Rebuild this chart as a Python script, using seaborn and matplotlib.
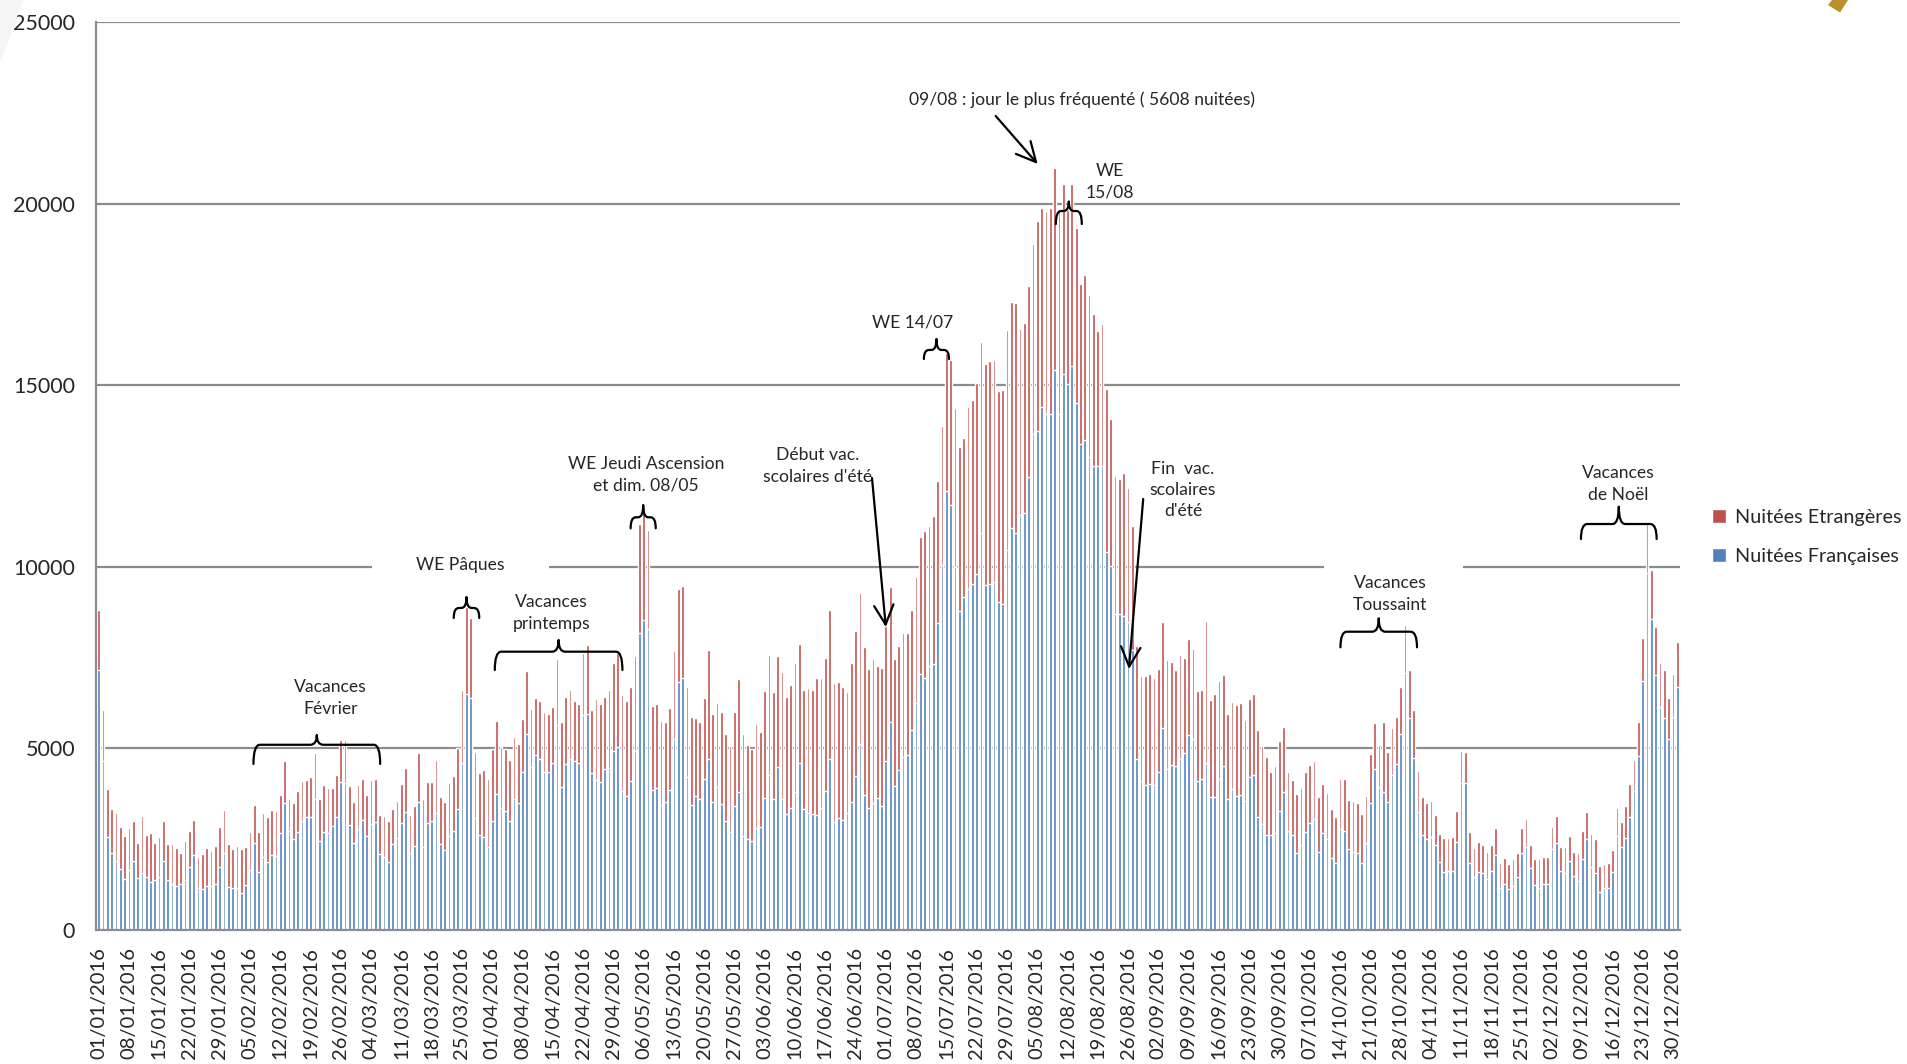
import numpy as np
import pandas as pd
import matplotlib
matplotlib.use('Agg')
import matplotlib.pyplot as plt
from matplotlib.path import Path
from matplotlib.patches import PathPatch, Polygon, Rectangle
import seaborn as sns

sns.set_style('white')
plt.rcParams['font.family'] = ['Lato', 'DejaVu Sans']

# daily nights, 2016 (total = Etrangères + Françaises)
jours = pd.date_range('2016-01-01', '2016-12-31', freq='D')

total = [
    # janvier
    8810, 6070, 3880, 3330, 3230, 2830, 2590, 2810, 3010, 2390, 3140, 2620, 2660, 2400, 2570, 3000,
    2370, 2370, 2250, 2110, 2450, 2720, 3030, 2010, 2080, 2250, 2180, 2320, 2830, 3300, 2360,
    # fevrier
    2220, 2310, 2230, 2290, 2710, 3440, 2710, 3210, 3100, 3300, 3280, 3720, 4660, 3610, 3510,
    3840, 4090, 4130, 4200, 4860, 3620, 3990, 3920, 3900, 4260, 5230, 5230, 3960, 3520,
    # mars
    3990, 4170, 3710, 4130, 4160, 3160, 3140, 3010, 3320, 3560, 4010, 4450, 3170, 3410, 4880,
    3620, 4080, 4080, 4680, 3670, 3530, 4040, 4250, 5020, 6620, 8900, 8580, 4910, 4310, 4400, 4150,
    # avril
    4970, 5760, 5030, 4970, 4680, 5320, 5110, 5800, 7130, 6090, 6390, 6300, 5990, 5950, 6150,
    7460, 5730, 6420, 6620, 6300, 6220, 7620, 7840, 6070, 6370, 6220, 6420, 6610, 7340, 7620,
    # mai
    6460, 6300, 6680, 7550, 11190, 11650, 11010, 6170, 6210, 5750, 5730, 6100, 7690, 9390, 9480,
    6680, 5870, 5840, 5730, 6380, 7710, 5940, 6240, 5990, 5390, 5060, 5990, 6910, 5390, 5090, 4980,
    # juin
    5670, 5460, 6590, 7560, 6540, 7540, 7090, 6420, 6740, 7360, 7880, 6620, 6650, 6610, 6950,
    6950, 7480, 8810, 6790, 6820, 6680, 6560, 7340, 8240, 9280, 7800, 7190, 7450, 7270, 7210,
    # juillet
    8370, 9450, 7460, 7820, 8190, 8190, 8810, 9710, 10830, 10990, 11120, 11390, 12360, 13880, 15900,
    15690, 14360, 13310, 13560, 14390, 14590, 15070, 16200, 15580, 15670, 15690, 14840, 14870, 16520,
    17280, 17250,
    # aout
    16550, 16700, 17730, 18890, 19510, 19890, 19800, 19880, 20990, 19850, 20550, 19820, 20550, 19340,
    17790, 18030, 17480, 16960, 16480, 16690, 14900, 14070, 12500, 12420, 12570, 12180, 11120, 7810,
    6990, 6980, 7060,
    # septembre
    6950, 7190, 8490, 7430, 7370, 7160, 7570, 7500, 8010, 7740, 6570, 6610, 8510, 6330, 6500,
    6860, 7020, 5960, 6290, 6200, 6240, 5780, 6350, 6510, 5520, 5070, 4750, 4340, 4520, 5200,
    # octobre
    5580, 4340, 4120, 3740, 3900, 4340, 4540, 4650, 3670, 4010, 3780, 3320, 3120, 4170, 4150,
    3570, 3560, 3510, 3190, 3700, 4840, 5690, 5090, 5730, 4910, 5550, 5870, 6700, 8410, 7160, 6060,
    # novembre
    4380, 3670, 3510, 3550, 3180, 2630, 2540, 2540, 2570, 3280, 4930, 4890, 2690, 2250, 2430,
    2340, 2140, 2350, 2800, 1840, 1970, 1810, 1950, 2110, 2800, 3060, 2340, 1950, 1950, 2000,
    # decembre
    2020, 2840, 3140, 2280, 2290, 2590, 2140, 2110, 2730, 3240, 2630, 2500, 1760, 1820, 1840,
    2200, 3350, 2980, 3410, 4010, 4680, 5730, 8050, 11170, 9910, 8350, 7360, 7160, 6390, 7040, 7940,
]

francaises = [
    # janvier
    7160, 4660, 2550, 2110, 1900, 1670, 1400, 1650, 1900, 1430, 1580, 1450, 1310, 1380, 1450, 1900,
    1390, 1260, 1220, 1280, 1390, 1740, 2060, 1150, 1130, 1220, 1210, 1280, 1740, 2110, 1190,
    # fevrier
    1170, 1150, 1010, 1240, 1650, 2400, 1610, 2020, 1860, 2060, 2050, 2660, 3490, 2730, 2510,
    2710, 3000, 3120, 3120, 3620, 2450, 2710, 2660, 2860, 3100, 4080, 4060, 2880, 2390,
    # mars
    2770, 3030, 2590, 2920, 2980, 2090, 2000, 1880, 2370, 2540, 2940, 3260, 2110, 2320, 3530,
    2280, 2940, 3000, 3210, 2360, 2200, 2590, 2730, 3320, 4610, 6510, 6380, 3070, 2620, 2570, 2290,
    # avril
    3000, 3740, 3350, 3280, 3000, 3600, 3510, 4340, 5410, 4480, 4810, 4700, 4340, 4340, 4590,
    5640, 3950, 4570, 4710, 4660, 4590, 5920, 5960, 4310, 4130, 4080, 4420, 4450, 4940, 5030,
    # mai
    3830, 3690, 4090, 4940, 8170, 8530, 8300, 3850, 3900, 3440, 3530, 3850, 5260, 6840, 6950,
    4220, 3440, 3700, 3620, 4150, 4700, 3530, 3950, 3470, 3000, 2710, 3410, 3790, 2600, 2510, 2450,
    # juin
    2820, 2840, 3640, 4270, 3610, 4480, 3620, 3190, 3370, 3790, 4610, 3320, 3230, 3190, 3170,
    3350, 3840, 4700, 2980, 3070, 3030, 3230, 3530, 4240, 5110, 3730, 3370, 3510, 3640, 3420,
    # juillet
    4650, 5730, 3970, 4410, 4750, 4820, 5510, 6260, 7050, 6930, 7270, 7320, 8440, 10050, 12090,
    11700, 10000, 8780, 9160, 9400, 9540, 9800, 10920, 9500, 9530, 9570, 9020, 8980, 10470,
    11080, 10940,
    # aout
    11430, 11470, 12460, 13670, 13730, 14410, 14220, 14220, 15420, 14210, 15320, 15030, 15530, 14520,
    13380, 13490, 13010, 12780, 12780, 12780, 10410, 10010, 8710, 8710, 8650, 8470, 7710, 4720,
    4100, 3990, 4020,
    # septembre
    3990, 4340, 5550, 4430, 4540, 4520, 4720, 4860, 5370, 5260, 4100, 4170, 4610, 3650, 3650,
    4160, 4520, 3620, 3880, 3690, 3720, 3550, 4210, 4280, 3110, 2920, 2620, 2620, 2660, 3280,
    # octobre
    3800, 2730, 2620, 2130, 2340, 2710, 2940, 3050, 2140, 2660, 2510, 1970, 1850, 2770, 2730,
    2220, 2160, 2110, 1840, 2390, 3510, 4420, 3930, 3810, 3530, 4270, 4570, 5390, 7080, 5850, 4730,
    # novembre
    3260, 2620, 2500, 2570, 2340, 1880, 1590, 1620, 1620, 2430, 4060, 4040, 1850, 1470, 1590,
    1560, 1400, 1620, 2060, 1170, 1270, 1130, 1210, 1450, 2110, 2280, 1700, 1240, 1170, 1280,
    # decembre
    1280, 2220, 2400, 1620, 1560, 1900, 1500, 1360, 1950, 2500, 1740, 1560, 1060, 1170, 1170,
    1590, 2590, 2280, 2540, 3120, 3830, 4790, 6850, 9820, 8560, 7020, 6150, 5840, 5260, 5870, 6700,
]

RED = '#C0504D'
BLUE = '#4F81BD'
GRID = '#8C8C8C'

df = pd.DataFrame({'jour': np.arange(len(jours)), 'total': total, 'francaises': francaises})

fig = plt.figure(figsize=(19.08, 10.64), dpi=100)
ax = fig.add_axes([96 / 1908, 1 - 930 / 1064, 1584 / 1908, 908 / 1064])

# stacked look: total in red, french part drawn over it in blue
sns.barplot(data=df, x='jour', y='total', color=RED, saturation=1, width=0.62,
            errorbar=None, ax=ax, label='Nuitées Etrangères')
sns.barplot(data=df, x='jour', y='francaises', color=BLUE, saturation=1, width=0.62,
            errorbar=None, ax=ax, label='Nuitées Françaises')

ax.set_xlim(-0.6, 365.6)
ax.set_ylim(0, 25000)
ax.set_xlabel('')
ax.set_ylabel('')

ax.set_yticks(range(0, 25001, 5000))
ax.set_xticks(range(0, len(jours), 7))
ax.set_xticklabels(jours[::7].strftime('%d/%m/%Y'), rotation=90)
ax.set_xticks(np.arange(-0.5, len(jours), 1), minor=True)
ax.tick_params(axis='x', which='major', length=0, pad=12, labelsize=14.5)
ax.tick_params(axis='x', which='minor', length=6, width=1, color=GRID)
ax.tick_params(axis='y', length=4, width=1.5, color=GRID, pad=11, labelsize=15.5)

ax.set_axisbelow(True)
ax.yaxis.grid(True, color=GRID, lw=1.6)
sns.despine(ax=ax)
for s in ['left', 'bottom']:
    ax.spines[s].set_color(GRID)
    ax.spines[s].set_linewidth(1.6)

# white text boxes cutting the 10000 gridline
for x0, x1 in [(63.2, 104.1), (283.3, 315.4)]:
    ax.add_patch(Rectangle((x0, 9650), x1 - x0, 700, facecolor='white', edgecolor='none', zorder=0.8))


def brace(x0, x1, y, tip, end, k=1.5):
    k = min(k, (x1 - x0) / 5)
    xm = (x0 + x1) / 2
    verts = [(x0, end), (x0, y), (x0 + k, y),
             (xm - k, y), (xm, y), (xm, tip),
             (xm, y), (xm + k, y),
             (x1 - k, y), (x1, y), (x1, end)]
    codes = [Path.MOVETO, Path.CURVE3, Path.CURVE3,
             Path.LINETO, Path.CURVE3, Path.CURVE3,
             Path.CURVE3, Path.CURVE3,
             Path.LINETO, Path.CURVE3, Path.CURVE3]
    ax.add_patch(PathPatch(Path(verts, codes), fill=False, lw=1.6, color='black', zorder=5,
                           capstyle='round', joinstyle='round'))


brace(35.8, 65.1, 5100, 5370, 4570)
brace(82.1, 88.0, 8866, 9168, 8590)
brace(91.6, 121.1, 7663, 7985, 7159)
brace(123.0, 128.8, 11363, 11701, 11060)
brace(190.8, 196.6, 15970, 16272, 15721)
brace(221.3, 227.3, 19796, 20058, 19438)
brace(287.1, 304.8, 8213, 8582, 7783)
brace(342.7, 360.2, 11178, 11655, 10765)

txt = dict(ha='center', va='center', fontsize=12.6, linespacing=1.4, zorder=6)
ax.text(227.4, 22852, '09/08 : jour le plus fréquenté ( 5608 nuitées)', **txt)
ax.text(233.8, 20600, 'WE\n15/08', **txt)
ax.text(188.3, 16740, 'WE 14/07', **txt)
ax.text(166.2, 12775, "Début vac.\nscolaires d'été", **txt)
ax.text(250.7, 12115, "Fin  vac.\nscolaires\nd'été", **txt)
ax.text(126.6, 12528, 'WE Jeudi Ascension\net dim. 08/05', **txt)
ax.text(83.7, 10050, 'WE Pâques', **txt)
ax.text(104.7, 8728, 'Vacances\nprintemps', **txt)
ax.text(53.6, 6388, 'Vacances\nFévrier', **txt)
ax.text(298.6, 9251, 'Vacances\nToussaint', **txt)
ax.text(351.3, 12280, 'Vacances\nde Noël', **txt)

arrow = dict(arrowstyle='->,head_length=0.7,head_width=0.35', lw=1.6, color='black',
             mutation_scale=20, shrinkA=0, shrinkB=0)
ax.annotate('', xy=(217.1, 21090), xytext=(207.4, 22412), arrowprops=arrow, zorder=6)
ax.annotate('', xy=(182.0, 8342), xytext=(178.8, 12445), arrowprops=arrow, zorder=6)
ax.annotate('', xy=(238.2, 7186), xytext=(241.5, 11867), arrowprops=arrow, zorder=6)

ax.legend(loc='center left', bbox_to_anchor=(1712 / 1908, 1 - 537 / 1064),
          bbox_transform=fig.transFigure, frameon=False, fontsize=14.3,
          handlelength=0.7, handleheight=0.7, handletextpad=0.45,
          labelspacing=1.1, borderpad=0, borderaxespad=0)

# slide decorations in the corners
fig.patches.append(Polygon([(1828 / 1908, 1 - 5 / 1064), (1840 / 1908, 1 - 12.5 / 1064),
                            (1848 / 1908, 1.0), (1832 / 1908, 1.0)],
                           closed=True, transform=fig.transFigure, facecolor='#B8902C',
                           edgecolor='none'))
fig.patches.append(Polygon([(0, 1.0), (23 / 1908, 1.0), (12 / 1908, 1 - 32 / 1064), (0, 1 - 63 / 1064)],
                           closed=True, transform=fig.transFigure, facecolor='#F5F5F5',
                           edgecolor='none', zorder=0))

fig.savefig('out.png', dpi=100)
